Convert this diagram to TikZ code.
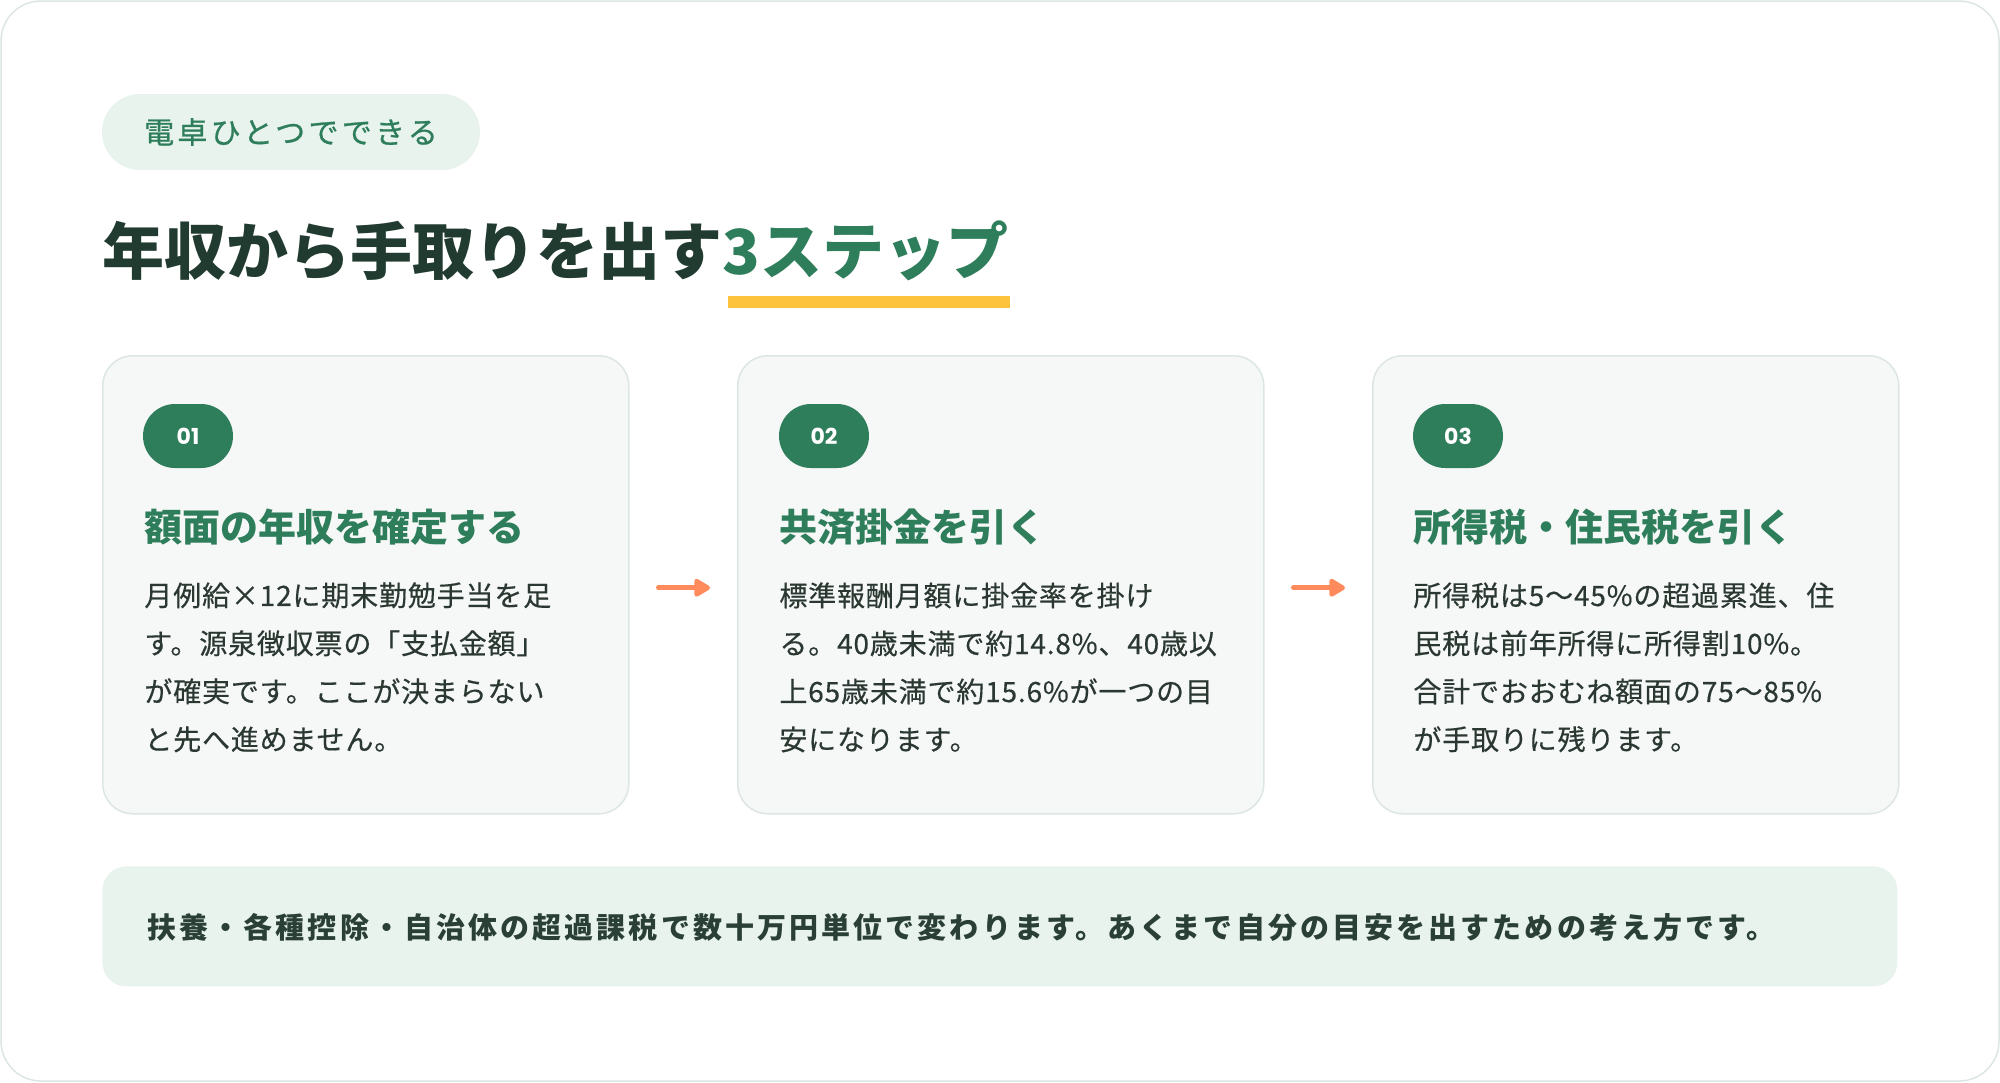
\documentclass[tikz,border=0pt]{standalone}
\usepackage{fontspec}
\setmainfont{Noto Sans CJK JP}
\newfontfamily\popfont{Poppins}
\usetikzlibrary{arrows.meta}
\definecolor{framecol}{HTML}{DCE6E2}
\definecolor{tagfill}{HTML}{E8F3EE}
\definecolor{green}{HTML}{2E7D5B}
\definecolor{titledark}{HTML}{223B30}
\definecolor{yellowbar}{HTML}{FDC33C}
\definecolor{cardfill}{HTML}{F6F8F7}
\definecolor{bodytext}{HTML}{2B3832}
\definecolor{arrowcol}{HTML}{FF8A5B}
\definecolor{notetext}{HTML}{2A3F35}
\newcommand\fsz[2]{\fontsize{#1}{#2}\selectfont}
\tikzset{
  card/.style={draw=framecol, line width=0.75pt, fill=cardfill, rounded corners=15pt,
    minimum width=263pt, minimum height=229pt, anchor=north west, inner sep=0pt},
  badge/.style={fill=green, rounded corners=16pt, minimum width=45pt, minimum height=32pt,
    inner sep=0pt, text=white, font=\popfont\bfseries\fsz{11pt}{13pt}},
  ctitle/.style={anchor=west, inner sep=0pt, text=green, font=\bfseries\fsz{19pt}{22pt}},
  cbody/.style={anchor=north west, inner sep=0pt, align=left, text=bodytext,
    font=\fsz{14pt}{24pt}\addfontfeature{LetterSpace=3,FakeBold=0.4}},
  arr/.style={draw=arrowcol, line width=2.5pt, line cap=round,
    -{Triangle[length=9pt,width=10pt,round]}},
}
\begin{document}
\begin{tikzpicture}[x=0.5pt,y=-0.5pt]
\useasboundingbox (0,0) rectangle (2000,1082);
\draw[framecol, line width=0.75pt, fill=white, rounded corners=20pt] (1,1) rectangle (1999,1081);
% tag
\node[fill=tagfill, rounded corners=19pt, minimum width=189pt, minimum height=38pt, inner sep=0pt,
  text=green, font=\fsz{15pt}{17pt}\addfontfeature{LetterSpace=11,FakeBold=0.8}] (tag) at (291,132) {電卓ひとつでできる};
% title
\node[anchor=west, inner sep=0pt, font=\bfseries\fsz{31pt}{36pt}] (title) at (102,251)
  {\textcolor{titledark}{年収から手取りを出す}\textcolor{green}{3ステップ}};
\fill[yellowbar] (728,296) rectangle (1010,308);
% cards
\node[card] (c1) at (102,355) {};
\node[card] (c2) at (737,355) {};
\node[card] (c3) at (1372,355) {};
\node[badge] (b1) at (188,436) {01};
\node[badge] (b2) at (824,436) {02};
\node[badge] (b3) at (1458,436) {03};
\node[ctitle] (t1) at (144,527) {額面の年収を確定する};
\node[ctitle] (t2) at (779,527) {共済掛金を引く};
\node[ctitle] (t3) at (1413,527) {所得税・住民税を引く};
\node[cbody] (d1) at (144,582) {月例給×12に期末勤勉手当を足\\す。源泉徴収票の「支払金額」\\が確実です。ここが決まらない\\と先へ進めません。};
\node[cbody] (d2) at (779,582) {標準報酬月額に掛金率を掛け\\る。40歳未満で約14.8\%、40歳以\\上65歳未満で約15.6\%が一つの目\\安になります。};
\node[cbody] (d3) at (1413,582) {所得税は5～45\%の超過累進、住\\民税は前年所得に所得割10\%。\\合計でおおむね額面の75～85\%\\が手取りに残ります。};
% arrows
\draw[arr] ([xshift=14.5pt,yshift=-1.5pt]c1.east) -- ([xshift=-13.5pt,yshift=-1.5pt]c2.west);
\draw[arr] ([xshift=14.5pt,yshift=-1.5pt]c2.east) -- ([xshift=-13.5pt,yshift=-1.5pt]c3.west);
% note
\node[fill=tagfill, rounded corners=12pt, minimum width=897.5pt, minimum height=60pt, anchor=north west, inner sep=0pt] (note) at (102,866) {};
\node[anchor=west, inner sep=0pt, text=notetext, font=\bfseries\fsz{14.5pt}{17pt}\addfontfeature{LetterSpace=10.7}] (notetxt) at (147,927)
  {扶養・各種控除・自治体の超過課税で数十万円単位で変わります。あくまで自分の目安を出すための考え方です。};
\end{tikzpicture}
\end{document}
